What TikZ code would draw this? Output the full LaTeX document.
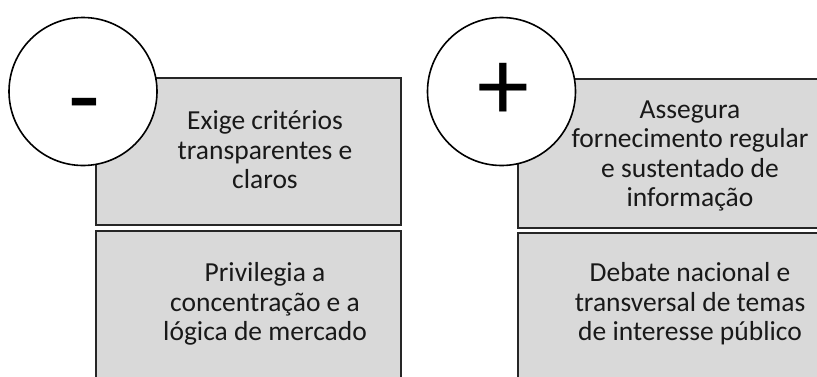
\documentclass[tikz,border=0pt]{standalone}
\usepackage{fontspec}
\setmainfont{Carlito}
\begin{document}
\begin{tikzpicture}[x=1pt,y=-1pt,
  card/.style={draw=black!85,line width=2pt,fill=black!15},
  cardtext/.style={align=center,font=\fontsize{27.5}{29.5}\selectfont,text=black!90},
  sign/.style={draw=black,line width=1.6pt,fill=white,circle,minimum size=148pt,inner sep=0pt},
  signtext/.style={font=\fontsize{104}{104}\selectfont,text=black}]
\useasboundingbox (0,0) rectangle (817,376);
\clip (0,0) rectangle (817,376);
% left column
\draw[card] (96,78) rectangle (401,225);
\draw[card] (96,231) rectangle (401,390);
\node[cardtext] (l1) at (265,150) {Exige critérios\\transparentes e\\claros};
\node[cardtext] (l2) at (265,304) {Privilegia a\\concentração e a\\lógica de mercado};
\node[sign] (minus) at (83,91.5) {};
\node[signtext] (mt) at (84,115) {-};
% right column
\draw[card] (518,79) rectangle (830,228);
\draw[card] (518,233) rectangle (830,390);
\node[cardtext] (r1) at (690,156) {Assegura\\fornecimento regular\\e sustentado de\\informação};
\node[cardtext] (r2) at (690,304) {Debate nacional e\\transversal de temas\\de interesse público};
\node[sign] (plus) at (501.5,91.5) {};
\node[signtext] (pt) at (503,92) {+};
\end{tikzpicture}
\end{document}
